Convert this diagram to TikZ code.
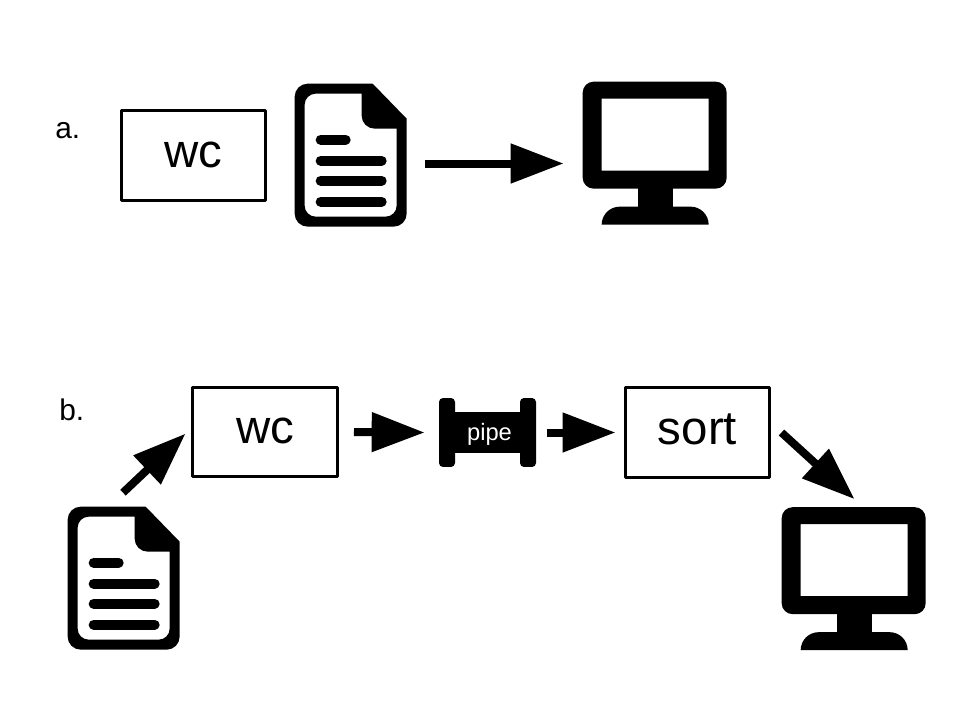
\documentclass[tikz,border=0pt]{standalone}
\usepackage{fontspec}
\setmainfont{Liberation Sans}
\usetikzlibrary{calc, positioning, arrows.meta}
\tikzset{
  progbox/.style={draw, rectangle, line width=0.06cm, line join=round, minimum width=2.9cm, minimum height=1.8cm, inner sep=0pt, text height=0.46cm, text depth=0pt, font=\fontsize{27}{27}\selectfont},
  stepname/.style={inner sep=0pt, anchor=base west, font=\fontsize{17}{17}\selectfont},
  docnode/.style={rectangle, minimum width=2.24cm, minimum height=2.86cm, inner sep=0pt},
  screennode/.style={rectangle, minimum width=2.88cm, minimum height=2.86cm, inner sep=0pt},
  flange/.style={rectangle, fill=black, rounded corners=0.08cm, minimum width=0.32cm, minimum height=1.38cm, inner sep=0pt},
  pipebody/.style={rectangle, fill=black, text=white, minimum width=1.4cm, minimum height=0.82cm, inner sep=0pt, text height=0.3cm, text depth=0pt, font=\fontsize{13.5}{13.5}\selectfont},
  bigarrow/.style={line width=0.16cm, -{Triangle[length=1.06cm, width=0.76cm]}},
  docicon/.pic={
    \fill[even odd rule] (30,0) -- (78,0) -- (112,35) [rounded corners=0.26cm] -- (112,143) -- (0,143) -- (0,0) [sharp corners] -- cycle
      (30,10) -- (67,10) [rounded corners=0.26cm] -- (67,45) [sharp corners] -- (102,45) [rounded corners=0.22cm] -- (102,133) -- (10,133) -- (10,10) [sharp corners] -- cycle;
    \draw[line width=0.2cm, line cap=round] (26,56) -- (51,56);
    \foreach \y in {77,97,118}
      \draw[line width=0.2cm, line cap=round] (26,\y) -- (87,\y);
  },
  screenicon/.pic={
    \fill[even odd rule] (72,0) [rounded corners=0.22cm] -- (144,0) -- (144,107) -- (0,107) -- (0,0) [sharp corners] -- cycle
      (19,17) -- (126,17) -- (126,89) -- (19,89) -- cycle;
    \fill (55,100) rectangle (90,130);
    \fill (19,143) arc[start angle=180, end angle=90, radius=0.36cm] -- (108,125) arc[start angle=90, end angle=0, radius=0.36cm] -- cycle;
  }
}
\begin{document}
\begin{tikzpicture}[x=0.02cm, y=-0.02cm, text centered]
  \useasboundingbox (0,0) rectangle (960,720);
  % nodes %
  \node[stepname] (labela) at (55,138) {a.};
  \node[progbox] (wca) at (193.5,155.5) {wc};
  \node[docnode] (doca) at (351,155.5) {};
  \node[screennode] (screena) at (655,153.5) {};

  \node[stepname] (labelb) at (59,420) {b.};
  \node[docnode] (docb) at (124,578.5) {};
  \node[progbox] (wcb) at (265,432) {wc};
  \node[flange] (pipel) at (447,432.5) {};
  \node[flange] (piper) at (528,432.5) {};
  \node[pipebody] (pipe) at (489.5,432.5) {pipe};
  \node[progbox] (sort) at (697.5,432.5) {sort};
  \node[screennode] (screenb) at (854,579) {};

  % icons %
  \pic at (doca.north west) {docicon};
  \pic at (screena.north west) {screenicon};
  \pic at (docb.north west) {docicon};
  \pic at (screenb.north west) {screenicon};

  % edges %
  \draw[bigarrow] ([shift={(18,8)}]doca.east) -- ([shift={(-19,10)}]screena.west);
  \draw[bigarrow] ([shift={(-1,-14)}]docb.north) -- ([shift={(-5.5,1.6)}]wcb.west);
  \draw[bigarrow] ([shift={(15,0)}]wcb.east) -- ([shift={(-14,0)}]pipel.west);
  \draw[bigarrow] ([shift={(11,0)}]piper.east) -- ([shift={(-8,0)}]sort.west);
  \draw[bigarrow] ([shift={(10,0)}]sort.east) -- ([shift={(0.5,-8)}]screenb.north);
\end{tikzpicture}
\end{document}
